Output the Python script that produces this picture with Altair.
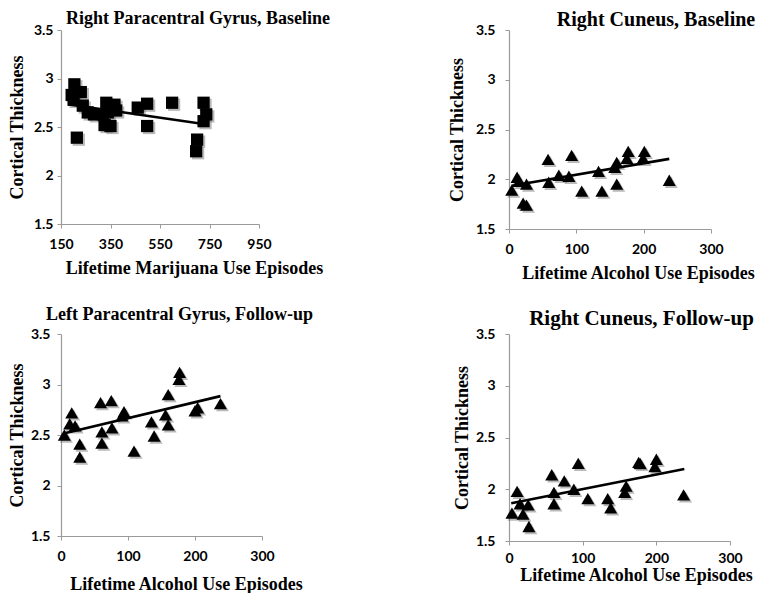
import altair as alt
import pandas as pd

# ---- Panel 1: Right Paracentral Gyrus, Baseline (marijuana) ----
mj_x = [204, 230, 193, 201, 214, 238, 258, 283, 319, 333, 366, 339, 373, 326, 350, 460, 498, 498, 599, 726, 737, 726, 700, 696]
mj_y = [2.94, 2.86, 2.83, 2.78, 2.39, 2.72, 2.65, 2.63, 2.63, 2.75, 2.73, 2.65, 2.67, 2.52, 2.51, 2.70, 2.74, 2.51, 2.75, 2.75, 2.63, 2.56, 2.37, 2.25]
mj_fit_x = [190, 740]
mj_fit_y = [2.73, 2.525]

# ---- Panel 2: Right Cuneus, Baseline (alcohol) ----
rcb_x = [4, 12, 15, 26, 21, 26, 58, 59, 74, 89, 93, 108, 133, 138, 157, 160, 160, 175, 177, 199, 201, 238]
rcb_y = [1.89, 2.02, 1.98, 1.95, 1.76, 1.74, 2.20, 1.97, 2.04, 2.03, 2.24, 1.88, 2.08, 1.88, 2.12, 2.17, 1.95, 2.21, 2.28, 2.21, 2.28, 1.99]
rcb_fit_x = [4, 238]
rcb_fit_y = [1.935, 2.205]

# ---- Panel 3: Left Paracentral Gyrus, Follow-up (alcohol) ----
lpf_x = [5, 16, 13, 21, 28, 28, 59, 75, 61, 61, 76, 94, 91, 109, 135, 139, 156, 160, 160, 177, 176, 200, 204, 238]
lpf_y = [2.50, 2.72, 2.61, 2.59, 2.41, 2.28, 2.82, 2.84, 2.53, 2.42, 2.57, 2.73, 2.69, 2.34, 2.63, 2.49, 2.70, 2.60, 2.90, 3.12, 3.05, 2.74, 2.77, 2.81]
lpf_fit_x = [4, 238]
lpf_fit_y = [2.515, 2.885]

# ---- Panel 4: Right Cuneus, Follow-up (alcohol) ----
rcf_x = [4, 11, 15, 26, 19, 27, 58, 61, 61, 75, 94, 88, 107, 134, 138, 159, 157, 176, 178, 200, 198, 237]
rcf_y = [1.77, 1.98, 1.86, 1.85, 1.76, 1.64, 2.14, 1.97, 1.86, 2.08, 2.25, 2.00, 1.91, 1.91, 1.82, 2.03, 1.97, 2.26, 2.25, 2.29, 2.22, 1.945]
rcf_fit_x = [3, 238]
rcf_fit_y = [1.865, 2.195]

y_ticks = [1.5, 2, 2.5, 3, 3.5]
mj_ticks = [150, 350, 550, 750, 950]
alc_ticks = [0, 100, 200, 300]

SERIF = "Liberation Serif"
SANS = "Lato"


def panel(title, xs, ys, fx, fy, shape, size, xdomain, xticks, xtitle,
          w, h, tfont, tdx, toff, xtx, xty, xlpad, ytx, ylpad):
    pts = pd.DataFrame({"x": xs, "y": ys})
    fit = pd.DataFrame({"x": fx, "y": fy})
    xenc = alt.X("x:Q",
                 scale=alt.Scale(domain=xdomain, nice=False, zero=False),
                 axis=alt.Axis(values=xticks, format="d", title=xtitle,
                               titleX=xtx, titleY=xty, tickSize=4,
                               labelPadding=xlpad, labelFlush=False,
                               labelOverlap=False))
    yenc = alt.Y("y:Q",
                 scale=alt.Scale(domain=[1.5, 3.5], nice=False, zero=False),
                 axis=alt.Axis(values=y_ticks, format="~g",
                               title="Cortical Thickness",
                               titleX=ytx, titleY=h / 2, tickSize=4,
                               labelPadding=ylpad, labelFlush=False,
                               labelOverlap=False))
    shadow = alt.Chart(pts).mark_point(
        shape=shape, filled=True, size=size, color="#666", opacity=0.45,
        xOffset=2, yOffset=2).encode(x=xenc, y=yenc)
    dots = alt.Chart(pts).mark_point(
        shape=shape, filled=True, size=size, color="black", opacity=1
    ).encode(x=xenc, y=yenc)
    line = alt.Chart(fit).mark_line(color="black", strokeWidth=2.6).encode(
        x=xenc, y=yenc)
    return alt.layer(shadow, dots, line).properties(
        width=w, height=h,
        title=alt.TitleParams(text=title, font=SERIF, fontSize=tfont,
                              fontWeight="bold", color="black",
                              anchor="middle", dx=tdx, offset=toff))


p1 = panel("Right Paracentral Gyrus, Baseline", mj_x, mj_y, mj_fit_x, mj_fit_y,
           "square", 150, [150, 950], mj_ticks,
           "Lifetime Marijuana Use Episodes",
           198, 194, 18, 38, -5, 133, 35, 9, -35, 4)
p2 = panel("Right Cuneus, Baseline", rcb_x, rcb_y, rcb_fit_x, rcb_fit_y,
           "triangle-up", 170, [0, 300], alc_ticks,
           "Lifetime Alcohol Use Episodes",
           202, 199, 20, 46, -7, 129, 35, 9, -43, 10)
p3 = panel("Left Paracentral Gyrus, Follow-up", lpf_x, lpf_y, lpf_fit_x, lpf_fit_y,
           "triangle-up", 170, [0, 300], alc_ticks,
           "Lifetime Alcohol Use Episodes",
           201, 202, 18, 18, 3, 125, 39, 9, -35, 7)
p4 = panel("Right Cuneus, Follow-up", rcf_x, rcf_y, rcf_fit_x, rcf_fit_y,
           "triangle-up", 170, [0, 300], alc_ticks,
           "Lifetime Alcohol Use Episodes",
           221, 207, 21, 22, -2, 127, 25, 6, -38, 10)

chart = alt.concat(p1, p2, p3, p4, columns=2, bounds="flush", align="each",
                   spacing={"row": 105, "column": 247}).properties(
    padding={"left": 0, "top": 2, "right": 0, "bottom": 0}
).configure_view(stroke=None).configure_axis(
    grid=False, domainColor="#9a9a9a", tickColor="#9a9a9a", domainWidth=1.2,
    labelFont=SANS, labelFontWeight="bold", labelFontSize=14,
    labelColor="black", titleFont=SERIF, titleFontSize=18,
    titleFontWeight="bold", titleColor="black"
)

chart.save("out.html", embed_options={"renderer": "svg", "actions": False})
